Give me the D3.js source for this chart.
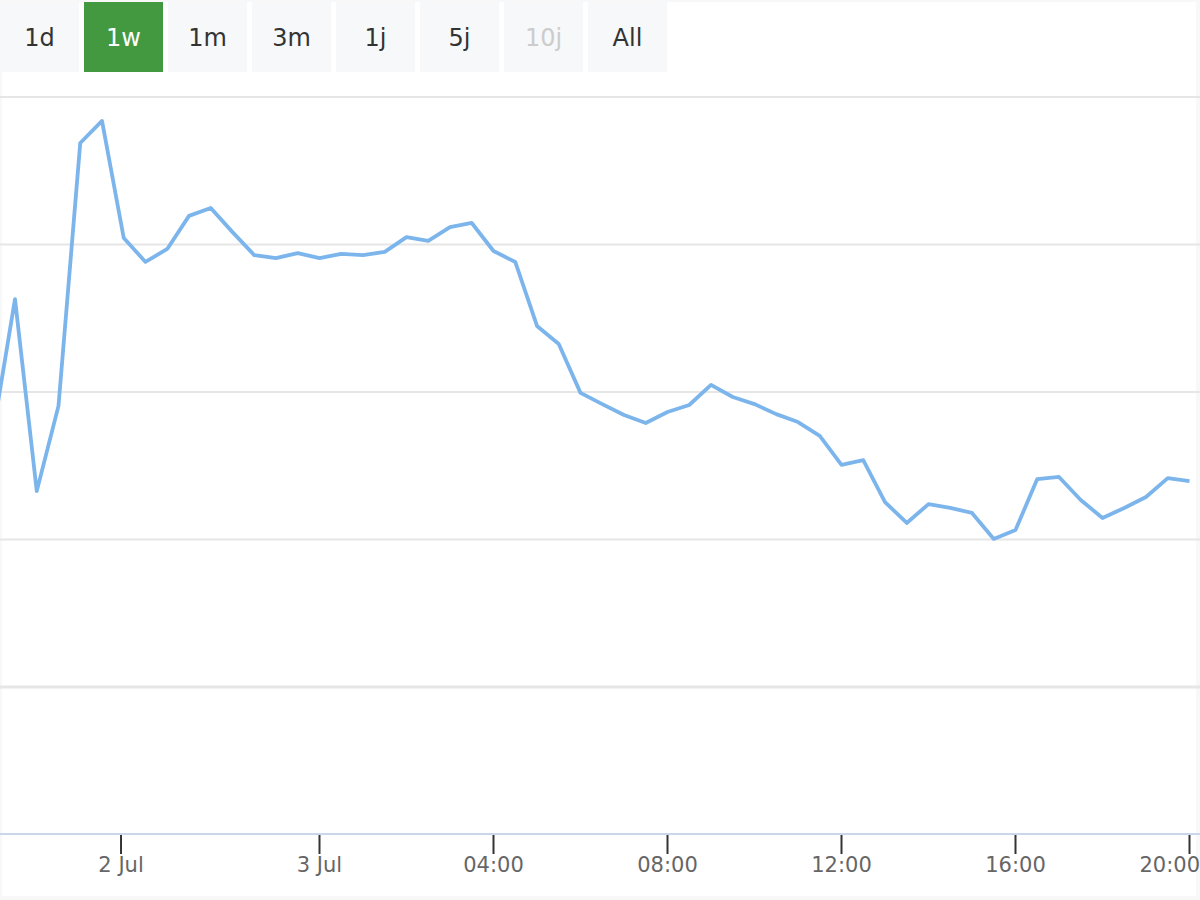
<!DOCTYPE html>
<html>
    <head>
        <meta charset="utf-8">
        <title>1w chart</title>
        <script src="https://d3js.org/d3.v7.min.js"></script>
        <style>
            html, body { margin: 0; padding: 0; background: #f8f8f8; }
            svg { display: block; font-family: "DejaVu Sans", sans-serif; }
        </style>
    </head>
    <body>
        <svg width="1200" height="900"></svg>

        <script>
            // range selector buttons
            const buttons = ["1d", "1w", "1m", "3m", "1j", "5j", "10j", "All"];
            const selectedButton = "1w";
            const disabledButtons = ["10j"];

            // one point every 30 minutes, ordinal axis (index -1 is clipped on the left)
            const pointIndex = [-1, 0, 1, 2, 3, 4, 5, 6, 7, 8, 9, 10, 11, 12, 13, 14, 15, 16, 17, 18, 19,
                20, 21, 22, 23, 24, 25, 26, 27, 28, 29, 30, 31, 32, 33, 34, 35, 36, 37, 38, 39,
                40, 41, 42, 43, 44, 45, 46, 47, 48, 49, 50, 51, 52, 53, 54];
            const prices = [28.68, 33.15, 26.64, 29.53, 38.44, 39.19, 35.22, 34.41, 34.85, 35.97, 36.24,
                35.42, 34.64, 34.54, 34.71, 34.54, 34.68, 34.64, 34.75, 35.25, 35.12,
                35.59, 35.73, 34.78, 34.41, 32.24, 31.63, 29.97, 29.59, 29.22, 28.95,
                29.32, 29.56, 30.24, 29.83, 29.59, 29.25, 28.98, 28.51, 27.53, 27.69,
                26.27, 25.56, 26.20, 26.07, 25.90, 25.02, 25.32, 27.05, 27.12, 26.34,
                25.73, 26.07, 26.44, 27.08, 26.98];

            // x axis ticks (positions on the ordinal index)
            const tickIndex = [4.875, 14, 22, 30, 38, 46, 54];
            const tickLabels = ["2 Jul", "3 Jul", "04:00", "08:00", "12:00", "16:00", "20:00"];

            // y grid values (no labels shown)
            const yTicks = [25, 30, 35, 40];

            const svg = d3.select("svg");

            // white chart box
            svg.append("rect")
                .attr("x", 2).attr("y", 2)
                .attr("width", 1194).attr("height", 894)
                .attr("fill", "#ffffff");

            // buttons
            const btn = svg.append("g").selectAll("g")
                .data(buttons)
                .enter().append("g")
                    .attr("transform", (d, i) => "translate(" + (i * 84) + ",2)");

            btn.append("rect")
                .attr("width", 79)
                .attr("height", 70)
                .attr("fill", d => d == selectedButton ? "#43993f" : "#f7f8fa");

            btn.append("text")
                .attr("x", 39.5)
                .attr("y", 44)
                .attr("text-anchor", "middle")
                .style("font-size", "24px")
                .attr("fill", d => d == selectedButton ? "#ffffff" : (disabledButtons.includes(d) ? "#cccccc" : "#333333"))
                .text(d => d);

            // scales
            const x = d3.scaleLinear().domain([0, 54]).range([15, 1189.5]);
            const y = d3.scaleLinear().domain([20, 40]).range([687, 97]);

            // grid lines
            svg.append("g").selectAll("line")
                .data(yTicks)
                .enter().append("line")
                    .attr("x1", 0).attr("x2", 1200)
                    .attr("y1", d => y(d)).attr("y2", d => y(d))
                    .attr("stroke", "#e6e6e6")
                    .attr("stroke-width", 2);

            // pane separator
            svg.append("line")
                .attr("x1", 0).attr("x2", 1200)
                .attr("y1", y(20)).attr("y2", y(20))
                .attr("stroke", "#e6e6e6")
                .attr("stroke-width", 3);

            // line, clipped to the plot
            svg.append("clipPath").attr("id", "plot")
                .append("rect")
                    .attr("x", 0).attr("y", 90)
                    .attr("width", 1196).attr("height", 600);

            const line = d3.line()
                .x((d, i) => x(pointIndex[i]))
                .y(d => y(d));

            svg.append("path")
                .datum(prices)
                .attr("clip-path", "url(#plot)")
                .attr("fill", "none")
                .attr("stroke", "#7cb5ec")
                .attr("stroke-width", 3.8)
                .attr("stroke-linejoin", "round")
                .attr("d", line);

            // x axis
            const axisY = 834;
            svg.append("line")
                .attr("x1", 0).attr("x2", 1200)
                .attr("y1", axisY).attr("y2", axisY)
                .attr("stroke", "#ccd6eb")
                .attr("stroke-width", 2);

            const ticks = svg.append("g").selectAll("g")
                .data(tickIndex)
                .enter().append("g")
                    .attr("transform", d => "translate(" + x(d) + ",0)");

            ticks.append("line")
                .attr("y1", axisY + 1).attr("y2", axisY + 20)
                .attr("stroke", "#333333")
                .attr("stroke-width", 2);

            ticks.append("text")
                .attr("y", axisY + 38)
                .attr("text-anchor", "middle")
                .style("font-size", "21px")
                .attr("fill", "#666666")
                .text((d, i) => tickLabels[i])
                .each(function(d) {
                    // keep the last label pushed in from the right edge, like the original
                    const w = this.getComputedTextLength();
                    const right = x(d) + w / 2;
                    if (right > 1200) {
                        d3.select(this).attr("x", 1200 - right);
                    }
                });
        </script>
    </body>
</html>
